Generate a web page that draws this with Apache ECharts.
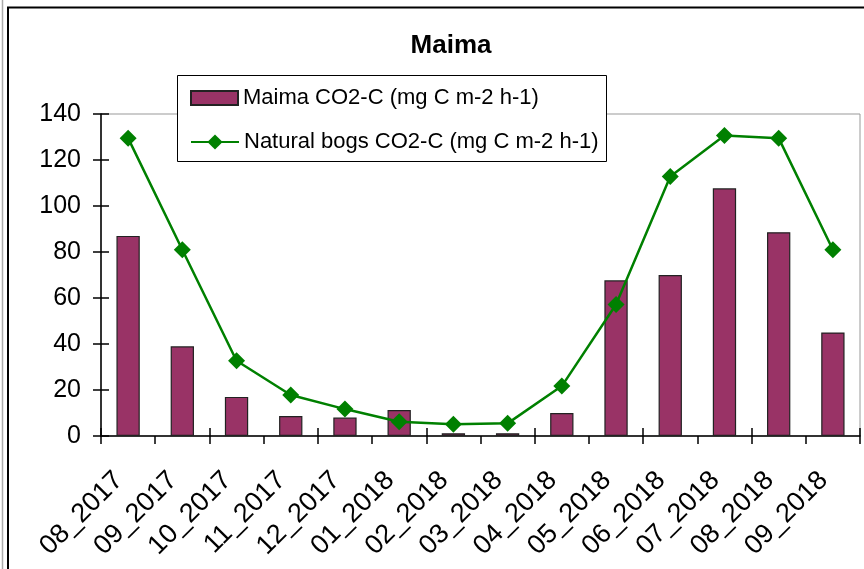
<!DOCTYPE html>
<html>
<head>
<meta charset="utf-8">
<script src="https://cdn.jsdelivr.net/npm/echarts@6/dist/echarts.min.js"></script>
<style>
  html, body { margin: 0; padding: 0; background: #fff; }
  #chart { width: 864px; height: 569px; }
</style>
</head>
<body>
<div id="chart"></div>
<script>
// Monthly CO2-C fluxes, Aug 2017 – Sep 2018
const months = ['08_2017', '09_2017', '10_2017', '11_2017', '12_2017', '01_2018', '02_2018',
                '03_2018', '04_2018', '05_2018', '06_2018', '07_2018', '08_2018', '09_2018'];
const maimaFlux = [87, 39, 17, 8.7, 8, 11.3, 1.2, 1.2, 10, 67.7, 70, 107.7, 88.6, 45];
const bogFlux = [129.5, 81, 32.7, 17.8, 11.7, 6.2, 5.1, 5.5, 21.7, 57.2, 112.8, 130.7, 129.5, 81];
const yTicks = { min: 0, max: 140, step: 20 };

const barName = 'Maima CO2-C (mg C m-2 h-1)';
const lineName = 'Natural bogs CO2-C (mg C m-2 h-1)';

const FONT = "'Liberation Sans', Arial, sans-serif";
const chart = echarts.init(document.getElementById('chart'), null, { renderer: 'canvas' });

const gridBox = { left: 101, right: 4, top: 114, bottom: 133 };
const legendText = { fontFamily: FONT, fontSize: 22, color: '#000' };

chart.setOption({
  animation: false,
  backgroundColor: '#fff',
  title: {
    text: 'Maima',
    left: 446,
    top: 28,
    textAlign: 'center',
    textStyle: { fontFamily: FONT, fontWeight: 'bold', fontSize: 26, color: '#000' }
  },
  graphic: [
    // outer chart frame
    { type: 'line', shape: { x1: 2.5, y1: 0, x2: 2.5, y2: 569 }, style: { stroke: '#aaa', lineWidth: 1.5 }, z: 0 },
    { type: 'rect', shape: { x: 8, y: 7.5, width: 900, height: 600 }, style: { fill: 'none', stroke: '#000', lineWidth: 2 }, z: 0 },
    // legend frame
    { type: 'rect', shape: { x: 177.5, y: 75.5, width: 429, height: 86 }, style: { fill: '#fff', stroke: '#000', lineWidth: 1 }, z: 5 }
  ],
  legend: [
    {
      left: 190,
      top: 87,
      itemWidth: 47,
      itemHeight: 14,
      itemGap: 7,
      padding: 0,
      z: 10,
      textStyle: legendText,
      data: [{ name: barName, icon: 'rect' }]
    },
    {
      left: 190,
      top: 131,
      itemWidth: 48,
      itemHeight: 19,
      padding: 0,
      z: 10,
      textStyle: legendText,
      data: [{ name: lineName }]
    }
  ],
  grid: Object.assign({ show: true, borderColor: '#999', borderWidth: 1, backgroundColor: 'transparent' }, gridBox),
  xAxis: [
    {
      type: 'category',
      data: months,
      boundaryGap: true,
      axisLine: { lineStyle: { color: '#000', width: 1.5 } },
      axisTick: { show: true, length: 8, inside: false, lineStyle: { color: '#000', width: 1.5 } },
      axisLabel: { rotate: 45, margin: 31, padding: [0, 13, 0, 0], interval: 0, fontFamily: FONT, fontSize: 27, color: '#000' }
    },
    {
      type: 'category',
      data: months,
      boundaryGap: true,
      position: 'bottom',
      axisLine: { show: false },
      axisTick: { show: true, length: 8, inside: true, lineStyle: { color: '#000', width: 1.5 } },
      axisLabel: { show: false }
    }
  ],
  yAxis: [
    {
      type: 'value',
      min: yTicks.min,
      max: yTicks.max,
      interval: yTicks.step,
      axisLine: { show: true, lineStyle: { color: '#000', width: 1.5 } },
      axisTick: { show: true, length: 8, inside: false, lineStyle: { color: '#000', width: 1.5 } },
      splitLine: { show: false },
      axisLabel: { margin: 20, fontFamily: FONT, fontSize: 25, color: '#000' }
    },
    {
      type: 'value',
      min: yTicks.min,
      max: yTicks.max,
      interval: yTicks.step,
      position: 'left',
      axisLine: { show: false },
      axisTick: { show: true, length: 8, inside: true, lineStyle: { color: '#000', width: 1.5 } },
      splitLine: { show: false },
      axisLabel: { show: false }
    }
  ],
  series: [
    {
      name: barName,
      type: 'bar',
      data: maimaFlux,
      barWidth: '43%',
      itemStyle: { color: '#993366', borderColor: '#222', borderWidth: 1.2 }
    },
    {
      name: lineName,
      type: 'line',
      data: bogFlux,
      symbol: 'diamond',
      symbolSize: 17,
      lineStyle: { color: '#008000', width: 2.5 },
      itemStyle: { color: '#008000' },
      z: 3
    }
  ]
});
</script>
</body>
</html>
